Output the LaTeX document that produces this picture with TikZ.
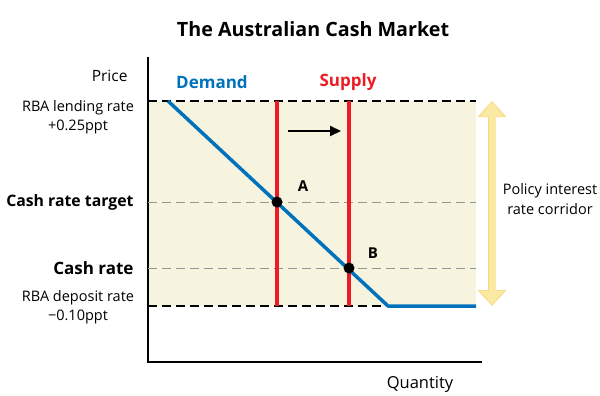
\documentclass[tikz,border=0pt]{standalone}
\usepackage{fontspec}
\setmainfont{Open Sans}
\usetikzlibrary{arrows.meta, positioning}
\definecolor{rba-blue}{RGB}{0, 114, 188}
\definecolor{rba-red}{RGB}{237, 28, 36}
\definecolor{rba-band}{RGB}{246, 243, 223}
\definecolor{rba-yellow}{RGB}{250, 233, 160}
\definecolor{rba-grey}{RGB}{150, 150, 150}

\begin{document}
\begin{tikzpicture}[
  x=1pt, y=-1pt,
  lbl/.style={font=\fontsize{14.5}{19.5}\selectfont, align=center},
  bold/.style={font=\fontsize{17}{20}\selectfont\bfseries},
  rate/.style={dashed, dash pattern=on 9pt off 5pt, line width=1.2pt},
  dot/.style={circle, fill=black, inner sep=0pt, minimum size=11pt},
  curve/.style={line width=3.5pt}
]
  \useasboundingbox (0,0) rectangle (600,396);
  % shaded corridor
  \fill[rba-band] (148,101) rectangle (476,306);
  % axes
  \coordinate (origin) at (148,362);
  \coordinate (ytop) at (148,57);
  \coordinate (xend) at (482,362);
  \draw[line width=1.4pt] (ytop) -- (origin) -- (xend);

  % rate lines
  \coordinate (lendL) at (148,101);  \coordinate (lendR) at (476,101);
  \coordinate (depL) at (148,306);   \coordinate (depR) at (388,306);
  \coordinate (tgtL) at (148,202);   \coordinate (tgtR) at (476,202);
  \coordinate (cashL) at (148,268);  \coordinate (cashR) at (476,268);
  \draw[rate] (lendL) -- (lendR);
  \draw[rate] (depL) -- (depR);
  \draw[rate, rba-grey, line width=1pt] (tgtL) -- (tgtR);
  \draw[rate, rba-grey, line width=1pt] (cashL) -- (cashR);

  % supply curves
  \coordinate (s1top) at (277,101); \coordinate (s1bot) at (277,306);
  \coordinate (s2top) at (349,101); \coordinate (s2bot) at (349,306);
  \draw[curve, rba-red] (s1top) -- (s1bot);
  \draw[curve, rba-red] (s2top) -- (s2bot);

  % demand curve
  \coordinate (dtop) at (168,101);
  \coordinate (dkink) at (388,306);
  \coordinate (dend) at (476,306);
  \draw[curve, rba-blue, line join=round] (dtop) -- (dkink) -- (dend);

  % equilibria
  \node[dot] (A) at (277,202) {};
  \node[dot] (B) at (349,268) {};
  \node[font=\fontsize{15}{18}\selectfont\bfseries] (labA) at (303,186) {A};
  \node[font=\fontsize{15}{18}\selectfont\bfseries] (labB) at (373,253) {B};

  % shift of supply
  \coordinate (shiftL) at (288,131);
  \coordinate (shiftR) at (341,131);
  \draw[-{Triangle[length=11pt, width=10pt]}, line width=2pt] (shiftL) -- (shiftR);

  % corridor arrow
  \coordinate (corTop) at (492,101);
  \coordinate (corBot) at (492,306);
  \draw[rba-yellow!80!orange, line width=8.5pt,
    {Triangle[length=16pt, width=28pt]}-{Triangle[length=16pt, width=28pt]}] (corTop) -- (corBot);
  \draw[rba-yellow, line width=7pt, shorten <=1pt, shorten >=1pt,
    {Triangle[length=14.5pt, width=25pt]}-{Triangle[length=14.5pt, width=25pt]}] (corTop) -- (corBot);

  % labels
  \node[font=\fontsize{19.7}{24}\selectfont\bfseries] (title) at (313,29) {The Australian Cash Market};
  \node[bold, rba-blue] (demand) at (212,82) {Demand};
  \node[bold, rba-red] (supply) at (348,82) {Supply};
  \node[font=\fontsize{15.5}{18}\selectfont, anchor=east] (price) at (131,76) {Price};
  \node[lbl] (lend) at (78,117) {RBA lending rate\\+0.25ppt};
  \node[bold, font=\fontsize{15.8}{19}\selectfont\bfseries, anchor=east] (target) at (137,202) {Cash rate target};
  \node[bold, anchor=east] (cash) at (137,268) {Cash rate};
  \node[lbl] (dep) at (78,307) {RBA deposit rate\\\textminus0.10ppt};
  \node[lbl] (corridor) at (550,199) {Policy interest\\rate corridor};
  \node[font=\fontsize{16.5}{18}\selectfont] (qty) at (420,384) {Quantity};
\end{tikzpicture}
\end{document}
